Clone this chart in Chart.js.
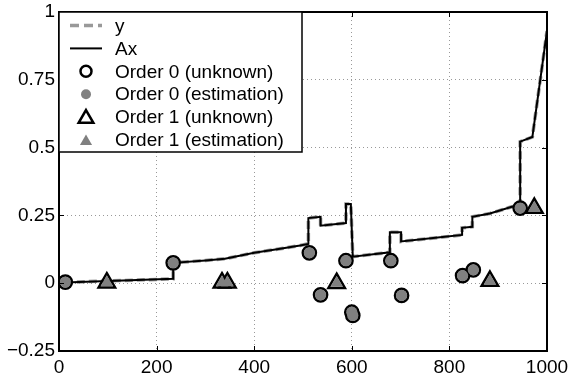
<!DOCTYPE html>
<html>
<head>
<meta charset="utf-8">
<script src="https://cdn.jsdelivr.net/npm/chart.js@4.4.0/dist/chart.umd.min.js"></script>
<style>
  html, body { margin: 0; padding: 0; background: #fff; }
</style>
</head>
<body>
<canvas id="chart" width="570" height="381"></canvas>
<script>
// y and Ax (they coincide)
const lineX = [12, 234, 234, 300, 340, 400, 450, 494, 511, 511, 536, 536, 588, 588, 598, 602, 678, 678, 701, 701, 781, 826, 826, 847, 847, 883, 928, 945, 945, 970, 1000];
const lineY = [0.003, 0.016, 0.075, 0.084, 0.090, 0.112, 0.126, 0.139, 0.145, 0.240, 0.245, 0.212, 0.222, 0.292, 0.292, 0.098, 0.114, 0.1875, 0.1875, 0.154, 0.169, 0.178, 0.204, 0.208, 0.245, 0.257, 0.282, 0.286, 0.522, 0.539, 0.93];

// Order 0 / Order 1 markers
const order0X = [13, 234, 513, 536, 588, 600, 602, 680, 702, 827, 849, 945];
const order0Y = [0.004, 0.075, 0.112, -0.043, 0.083, -0.107, -0.119, 0.083, -0.045, 0.028, 0.049, 0.277];
const order1X = [98, 334, 345, 569, 883, 974];
const order1Y = [0.002, 0.002, 0.002, 0.0, 0.008, 0.277];

const xTicks = [0, 200, 400, 600, 800, 1000];
const yTicks = [-0.25, 0, 0.25, 0.5, 0.75, 1];
const legendLabels = ['y', 'Ax', 'Order 0 (unknown)', 'Order 0 (estimation)', 'Order 1 (unknown)', 'Order 1 (estimation)'];

const GRAY = '#808080';

function pts(xs, ys) {
    return xs.map((x, i) => ({ x: x, y: ys[i] }));
}

Chart.defaults.font.family = '"Liberation Sans", Arial, Helvetica, sans-serif';
Chart.defaults.font.size = 19;
Chart.defaults.color = '#000';

// frame with inward ticks, like matlab
const framePlugin = {
    id: 'frame',
    afterDatasetsDraw(chart) {
        const ctx = chart.ctx;
        const a = chart.chartArea;
        const xs = chart.scales.x, ys = chart.scales.y;
        ctx.save();
        ctx.strokeStyle = '#000';
        ctx.lineWidth = 1;
        ctx.beginPath();
        xTicks.forEach(v => {
            const p = Math.round(xs.getPixelForValue(v)) + 0.5;
            ctx.moveTo(p, a.bottom); ctx.lineTo(p, a.bottom - 5);
            ctx.moveTo(p, a.top); ctx.lineTo(p, a.top + 5);
        });
        yTicks.forEach(v => {
            const p = Math.round(ys.getPixelForValue(v)) + 0.5;
            ctx.moveTo(a.left, p); ctx.lineTo(a.left + 5, p);
            ctx.moveTo(a.right, p); ctx.lineTo(a.right - 5, p);
        });
        ctx.stroke();
        ctx.lineWidth = 2;
        ctx.strokeRect(a.left, a.top, a.right - a.left, a.bottom - a.top);
        ctx.restore();
    }
};

function triPath(ctx, x, y, r) {
    const c = Math.cos(Math.PI / 6) * r;
    ctx.beginPath();
    ctx.moveTo(x, y - r);
    ctx.lineTo(x + c, y + r / 2);
    ctx.lineTo(x - c, y + r / 2);
    ctx.closePath();
}

const legendPlugin = {
    id: 'boxLegend',
    afterDraw(chart) {
        const ctx = chart.ctx;
        const a = chart.chartArea;
        const x0 = a.left, y0 = a.top, w = 243, h = 140;
        ctx.save();
        ctx.fillStyle = '#fff';
        ctx.fillRect(x0, y0, w, h);
        ctx.strokeStyle = '#000';
        ctx.lineWidth = 1.5;
        ctx.strokeRect(x0, y0, w, h);

        const cx = x0 + 27;
        const rows = legendLabels.map((_, i) => y0 + 13.5 + i * 22.9);

        // y: dashed gray
        ctx.strokeStyle = '#999';
        ctx.lineWidth = 3.5;
        ctx.setLineDash([9, 5]);
        ctx.beginPath(); ctx.moveTo(x0 + 11, rows[0]); ctx.lineTo(x0 + 43, rows[0]); ctx.stroke();
        ctx.setLineDash([]);
        // Ax: solid black
        ctx.strokeStyle = '#000';
        ctx.lineWidth = 2;
        ctx.beginPath(); ctx.moveTo(x0 + 11, rows[1]); ctx.lineTo(x0 + 43, rows[1]); ctx.stroke();
        // order 0 unknown
        ctx.lineWidth = 2.5;
        ctx.beginPath(); ctx.arc(cx, rows[2], 5.5, 0, Math.PI * 2); ctx.stroke();
        // order 0 estimation
        ctx.fillStyle = GRAY;
        ctx.beginPath(); ctx.arc(cx, rows[3], 5, 0, Math.PI * 2); ctx.fill();
        // order 1 unknown
        ctx.lineWidth = 2.5;
        triPath(ctx, cx, rows[4] + 1.5, 8.5); ctx.stroke();
        // order 1 estimation
        triPath(ctx, cx, rows[5] + 1.5, 7); ctx.fill();

        ctx.fillStyle = '#000';
        ctx.font = '19px "Liberation Sans", Arial, sans-serif';
        ctx.textBaseline = 'middle';
        legendLabels.forEach((t, i) => ctx.fillText(t, x0 + 56, rows[i] + 1));
        ctx.restore();
    }
};

new Chart(document.getElementById('chart'), {
    type: 'line',
    data: {
        datasets: [
            {
                label: legendLabels[0],
                data: pts(lineX, lineY),
                borderColor: '#999',
                borderWidth: 3.5,
                borderDash: [8, 4],
                pointRadius: 0,
                fill: false,
                order: 6
            },
            {
                label: legendLabels[1],
                data: pts(lineX, lineY),
                borderColor: '#000',
                borderWidth: 2,
                pointRadius: 0,
                fill: false,
                order: 5
            },
            {
                label: legendLabels[2],
                data: pts(order0X, order0Y),
                showLine: false,
                pointStyle: 'circle',
                pointRadius: 6.6,
                pointBorderWidth: 2.5,
                pointBorderColor: '#000',
                pointBackgroundColor: 'rgba(0,0,0,0)',
                order: 4
            },
            {
                label: legendLabels[3],
                data: pts(order0X, order0Y),
                showLine: false,
                pointStyle: 'circle',
                pointRadius: 5.6,
                pointBorderWidth: 0,
                pointBackgroundColor: GRAY,
                order: 3
            },
            {
                label: legendLabels[4],
                data: pts(order1X, order1Y),
                showLine: false,
                pointStyle: 'triangle',
                pointRadius: 9.5,
                pointBorderWidth: 2.5,
                pointBorderColor: '#000',
                pointBackgroundColor: 'rgba(0,0,0,0)',
                order: 2
            },
            {
                label: legendLabels[5],
                data: pts(order1X, order1Y),
                showLine: false,
                pointStyle: 'triangle',
                pointRadius: 7.3,
                pointBorderWidth: 0,
                pointBackgroundColor: GRAY,
                order: 1
            }
        ]
    },
    options: {
        responsive: false,
        animation: false,
        devicePixelRatio: 1,
        layout: { padding: { top: 12, right: 23, left: 0, bottom: 0 } },
        plugins: {
            legend: { display: false },
            tooltip: { enabled: false }
        },
        scales: {
            x: {
                type: 'linear',
                min: 0,
                max: 1000,
                afterBuildTicks: s => { s.ticks = xTicks.map(v => ({ value: v })); },
                afterFit: s => { s.height = 30; s.paddingLeft = 0; s.paddingRight = 0; },
                ticks: { autoSkip: false, maxRotation: 0, padding: 5, callback: v => String(v) },
                grid: { color: '#999', lineWidth: 1, drawTicks: false },
                border: { display: false, dash: [1, 3] }
            },
            y: {
                type: 'linear',
                min: -0.25,
                max: 1,
                afterBuildTicks: s => { s.ticks = yTicks.map(v => ({ value: v })); },
                afterFit: s => { s.width = 59; s.paddingTop = 0; s.paddingBottom = 0; },
                ticks: { autoSkip: false, padding: 4, callback: v => (v < 0 ? '\u2212' + Math.abs(v) : String(v)) },
                grid: { color: '#999', lineWidth: 1, drawTicks: false },
                border: { display: false, dash: [1, 3] }
            }
        }
    },
    plugins: [framePlugin, legendPlugin]
});
</script>
</body>
</html>
